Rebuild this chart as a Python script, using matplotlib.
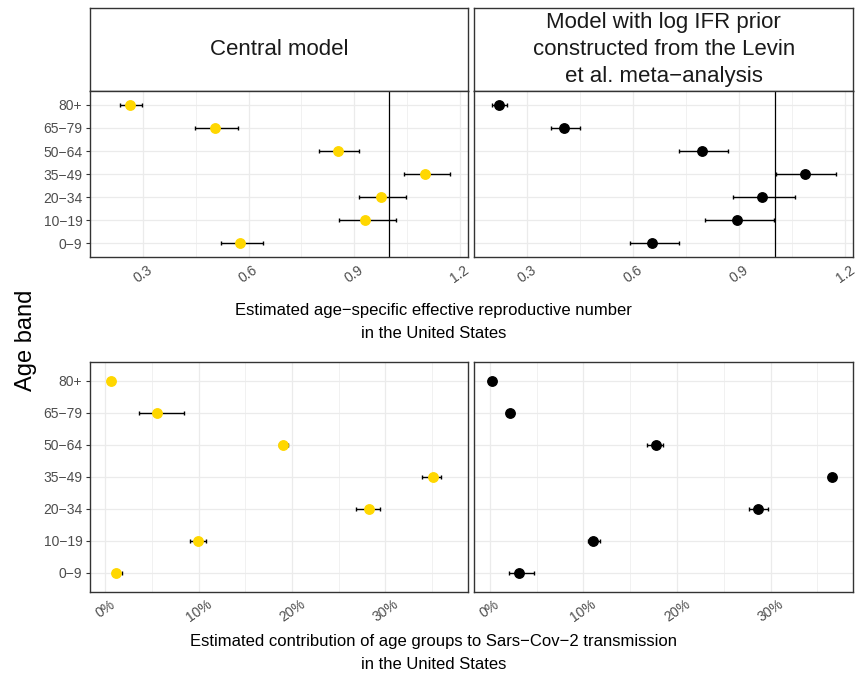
import matplotlib
matplotlib.use("Agg")
import matplotlib.pyplot as plt

plt.rcParams['font.family'] = ['Liberation Sans', 'DejaVu Sans']

# Age bands, bottom to top
age_bands = ['0−9', '10−19', '20−34', '35−49', '50−64', '65−79', '80+']

# Age-specific effective reproductive number (median, lower, upper)
rt_central = [0.575, 0.932, 0.976, 1.101, 0.854, 0.504, 0.263]
rt_central_lo = [0.521, 0.857, 0.914, 1.040, 0.800, 0.447, 0.235]
rt_central_hi = [0.640, 1.019, 1.047, 1.173, 0.915, 0.570, 0.298]

rt_levin = [0.654, 0.894, 0.965, 1.087, 0.795, 0.405, 0.219]
rt_levin_lo = [0.590, 0.804, 0.881, 1.004, 0.730, 0.366, 0.199]
rt_levin_hi = [0.730, 0.999, 1.058, 1.175, 0.867, 0.448, 0.243]

# Contribution to transmission, in percent
contrib_central = [1.14, 9.93, 28.25, 35.10, 19.07, 5.57, 0.57]
contrib_central_lo = [0.86, 9.11, 26.82, 33.97, 18.60, 3.64, 0.45]
contrib_central_hi = [1.82, 10.72, 29.46, 36.00, 19.60, 8.46, 0.70]

contrib_levin = [3.13, 11.05, 28.70, 36.55, 17.79, 2.17, 0.25]
contrib_levin_lo = [2.10, 10.50, 27.70, 36.30, 16.80, 1.95, 0.15]
contrib_levin_hi = [4.70, 11.80, 29.70, 36.80, 18.55, 2.40, 0.35]

strip_titles = ['Central model',
                'Model with log IFR prior\nconstructed from the Levin\net al. meta−analysis']

W, H = 858, 675
fig = plt.figure(figsize=(W / 100, H / 100), dpi=100)

TICK_SIZE = 10


def box(x0, y0, x1, y1):
    # pixel box (top-left origin) -> figure fraction rect
    return [x0 / W, 1 - y1 / H, (x1 - x0) / W, (y1 - y0) / H]


border = '#333333'
grid = '#EBEBEB'
tick_col = '#4D4D4D'


def panel(rect, med, lo, hi, colour, xlim, major, minor, fmt, show_y, vline=None):
    ax = fig.add_axes(rect)
    ypos = list(range(1, len(age_bands) + 1))
    ax.set_xlim(*xlim)
    ax.set_ylim(0.4, len(age_bands) + 0.6)
    ax.set_xticks(major)
    ax.set_xticks(minor, minor=True)
    ax.set_xticklabels([fmt(v) for v in major], rotation=35, ha='center',
                       va='top', fontsize=TICK_SIZE, color=tick_col)
    ax.set_yticks(ypos)
    ax.set_yticklabels(age_bands if show_y else [], fontsize=TICK_SIZE,
                       color=tick_col)
    ax.grid(True, which='major', color=grid, lw=0.9, zorder=0)
    ax.grid(True, which='minor', axis='x', color=grid, lw=0.5, zorder=0)
    ax.set_axisbelow(True)
    for s in ax.spines.values():
        s.set_color(border)
        s.set_linewidth(1.0)
    ax.tick_params(axis='both', which='major', width=0.8, color=border)
    ax.tick_params(axis='x', which='both', length=0, pad=4)
    ax.tick_params(axis='y', length=3 if show_y else 0, pad=2.5)
    if vline is not None:
        ax.axvline(vline, color='black', lw=0.9, zorder=1)
    xerr = [[m - l for m, l in zip(med, lo)], [h - m for m, h in zip(med, hi)]]
    ax.errorbar(med, ypos, xerr=xerr, fmt='none', ecolor='black',
                elinewidth=1.0, capsize=1.6, capthick=1.0, zorder=2)
    ax.plot(med, ypos, 'o', color=colour, ms=6.8, mec=colour, zorder=3)
    return ax


def strip(rect, text):
    ax = fig.add_axes(rect)
    ax.set_xticks([])
    ax.set_yticks([])
    for s in ax.spines.values():
        s.set_color(border)
        s.set_linewidth(1.0)
    ax.text(0.5, 0.5, text, ha='center', va='center', fontsize=16,
            color='#1A1A1A', linespacing=1.35, transform=ax.transAxes)


rt_xlim = (0.15, 1.223)
rt_major = [0.3, 0.6, 0.9, 1.2]
rt_minor = [0.15, 0.45, 0.75, 1.05]
rt_fmt = lambda v: f'{v:.1f}'

pc_xlim = (-1.66, 38.85)
pc_major = [0, 10, 20, 30]
pc_minor = [5, 15, 25, 35]
pc_fmt = lambda v: f'{v:.0f}%'

yellow = '#FFD700'

strip(box(90, 8, 468, 91), strip_titles[0])
strip(box(474.3, 8, 853.3, 91), strip_titles[1])

panel(box(90, 91, 468, 257.3), rt_central, rt_central_lo, rt_central_hi,
      yellow, rt_xlim, rt_major, rt_minor, rt_fmt, True, vline=1.0)
panel(box(474.3, 91, 853.3, 257.3), rt_levin, rt_levin_lo, rt_levin_hi,
      'black', rt_xlim, rt_major, rt_minor, rt_fmt, False, vline=1.0)

panel(box(90, 361.7, 468, 591.7), contrib_central, contrib_central_lo,
      contrib_central_hi, yellow, pc_xlim, pc_major, pc_minor, pc_fmt, True)
panel(box(474.3, 361.7, 853.3, 591.7), contrib_levin, contrib_levin_lo,
      contrib_levin_hi, 'black', pc_xlim, pc_major, pc_minor, pc_fmt, False)

fig.text(0.505, 1 - 322 / H,
         'Estimated age−specific effective reproductive number\nin the United States',
         ha='center', va='center', fontsize=12, linespacing=1.6, color='black')
fig.text(0.505, 1 - 653 / H,
         'Estimated contribution of age groups to Sars−Cov−2 transmission\nin the United States',
         ha='center', va='center', fontsize=12, linespacing=1.6, color='black')
fig.text(26 / W, 1 - 340 / H, 'Age band', rotation=90, ha='center', va='center',
         fontsize=17, color='black')

fig.savefig('out.png', dpi=100, facecolor='white')
